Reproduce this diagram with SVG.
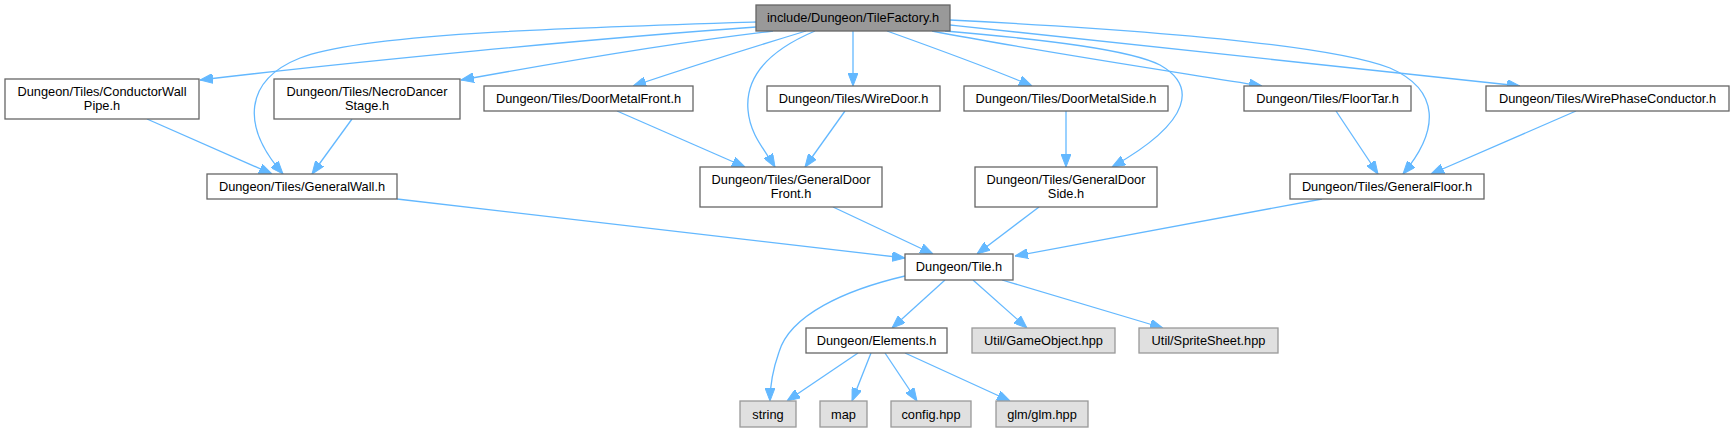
<svg xmlns="http://www.w3.org/2000/svg" width="1733" height="432" viewBox="0 0 1733 432">
<style>
.n rect{fill:#ffffff;stroke:#666666;stroke-width:1.3}
.main rect{fill:#999999;stroke:#666666}
.ext rect{fill:#E0E0E0;stroke:#999999}
text{font-family:"Liberation Sans",Arial,sans-serif;font-size:12.8px;fill:#000;text-anchor:middle}
.e path{fill:none;stroke:#63B8FF;stroke-width:1.3;marker-end:url(#ah)}
</style>
<defs>
<marker id="ah" markerUnits="userSpaceOnUse" markerWidth="13" markerHeight="10" refX="13" refY="5" orient="auto" viewBox="0 0 13 10">
<path d="M0,0 L13,5 L0,10 z" fill="#63B8FF" stroke="#63B8FF" stroke-width="1"/>
</marker>
</defs>
<rect width="1733" height="432" fill="#ffffff"/>
<g id="edges" class="e">
<path d="M756,22 C560,28 360,34 300,58 C245,80 240,125 283,174"/>
<path d="M756,27 C600,38 350,62 200,80"/>
<path d="M773,31 C680,42 560,62 461,80"/>
<path d="M806,31 C760,45 690,67 633,86"/>
<path d="M815,31 C770,50 745,75 748,110 C750,135 765,150 775,167"/>
<path d="M853,31 L853,86"/>
<path d="M887,31 C940,50 990,68 1032,86"/>
<path d="M945,31 C1050,40 1130,50 1160,65 C1195,85 1195,120 1112,167"/>
<path d="M932,31 C1030,50 1150,68 1262,86"/>
<path d="M950,25 C1150,45 1350,68 1520,86"/>
<path d="M950,20 C1150,30 1330,45 1390,68 C1440,90 1440,130 1403,174"/>
<path d="M147,119 L272,174"/>
<path d="M352,119 L312,174"/>
<path d="M617,111 L745,167"/>
<path d="M845,111 L805,167"/>
<path d="M1066,111 L1066,167"/>
<path d="M1336,111 L1378,174"/>
<path d="M1576,111 L1431,174"/>
<path d="M397,199 L905,258"/>
<path d="M833,207 L933,254"/>
<path d="M1039,207 L977,254"/>
<path d="M1322,199 L1015,256"/>
<path d="M905,276 C845,290 790,315 779,352 C772,372 770,385 770,401"/>
<path d="M945,280 L892,328"/>
<path d="M973,280 L1027,328"/>
<path d="M1002,280 L1163,328"/>
<path d="M858,353 L787,401"/>
<path d="M871,353 L852,401"/>
<path d="M885,353 L917,401"/>
<path d="M905,353 L1010,401"/>
</g>
<g id="node1" class="n main"><rect x="756" y="5" width="194" height="26"/><text x="853" y="22">include/Dungeon/TileFactory.h</text></g>
<g id="node2" class="n"><rect x="5" y="79" width="194" height="40"/><text x="102" y="96">Dungeon/Tiles/ConductorWall</text><text x="102" y="110">Pipe.h</text></g>
<g id="node3" class="n"><rect x="274" y="79" width="186" height="40"/><text x="367" y="96">Dungeon/Tiles/NecroDancer</text><text x="367" y="110">Stage.h</text></g>
<g id="node4" class="n"><rect x="484" y="86" width="209" height="25"/><text x="588.5" y="103">Dungeon/Tiles/DoorMetalFront.h</text></g>
<g id="node5" class="n"><rect x="767" y="86" width="173" height="25"/><text x="853.5" y="103">Dungeon/Tiles/WireDoor.h</text></g>
<g id="node6" class="n"><rect x="964" y="86" width="204" height="25"/><text x="1066" y="103">Dungeon/Tiles/DoorMetalSide.h</text></g>
<g id="node7" class="n"><rect x="1244" y="86" width="167" height="25"/><text x="1327.5" y="103">Dungeon/Tiles/FloorTar.h</text></g>
<g id="node8" class="n"><rect x="1486" y="86" width="243" height="25"/><text x="1607.5" y="103">Dungeon/Tiles/WirePhaseConductor.h</text></g>
<g id="node9" class="n"><rect x="207" y="174" width="190" height="25"/><text x="302" y="191">Dungeon/Tiles/GeneralWall.h</text></g>
<g id="node10" class="n"><rect x="700" y="167" width="182" height="40"/><text x="791" y="184">Dungeon/Tiles/GeneralDoor</text><text x="791" y="198">Front.h</text></g>
<g id="node11" class="n"><rect x="975" y="167" width="182" height="40"/><text x="1066" y="184">Dungeon/Tiles/GeneralDoor</text><text x="1066" y="198">Side.h</text></g>
<g id="node12" class="n"><rect x="1290" y="174" width="194" height="25"/><text x="1387" y="191">Dungeon/Tiles/GeneralFloor.h</text></g>
<g id="node13" class="n"><rect x="905" y="254" width="108" height="26"/><text x="959" y="271">Dungeon/Tile.h</text></g>
<g id="node14" class="n"><rect x="806" y="328" width="141" height="25"/><text x="876.5" y="345">Dungeon/Elements.h</text></g>
<g id="node15" class="n ext"><rect x="972" y="328" width="143" height="25"/><text x="1043.5" y="345">Util/GameObject.hpp</text></g>
<g id="node16" class="n ext"><rect x="1139" y="328" width="139" height="25"/><text x="1208.5" y="345">Util/SpriteSheet.hpp</text></g>
<g id="node17" class="n ext"><rect x="740" y="401" width="56" height="26"/><text x="768" y="418.5">string</text></g>
<g id="node18" class="n ext"><rect x="820" y="401" width="47" height="26"/><text x="843.5" y="418.5">map</text></g>
<g id="node19" class="n ext"><rect x="891" y="401" width="80" height="26"/><text x="931" y="418.5">config.hpp</text></g>
<g id="node20" class="n ext"><rect x="996" y="401" width="92" height="26"/><text x="1042" y="418.5">glm/glm.hpp</text></g>
</svg>
